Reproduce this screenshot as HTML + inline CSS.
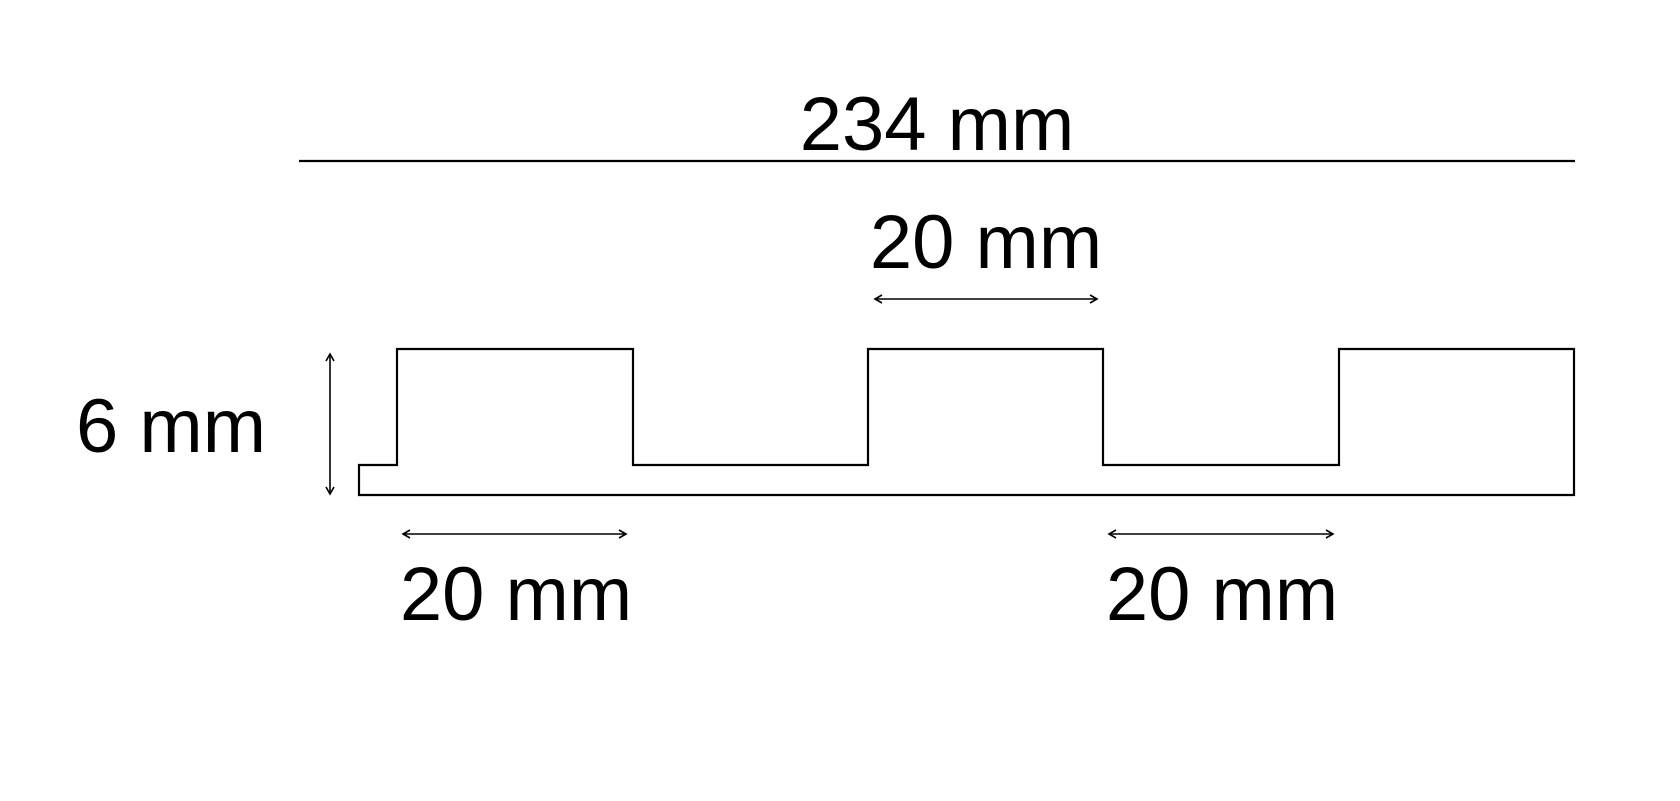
<!DOCTYPE html>
<html><head><style>html,body{margin:0;padding:0;background:#fff;}svg{display:block}</style></head>
<body>
<svg width="1680" height="801" viewBox="0 0 1680 801" xmlns="http://www.w3.org/2000/svg">
<defs>
<marker id="a" markerWidth="10" markerHeight="10" refX="8" refY="5" orient="auto-start-reverse" markerUnits="userSpaceOnUse">
<path d="M1,1 L8,5 L1,9" fill="none" stroke="#000" stroke-width="1.6"/></marker>
</defs>
<g font-family="Liberation Sans, Arial, sans-serif" font-size="76" fill="#000">
<text x="937" y="150" text-anchor="middle">234 mm</text>
<text x="986" y="268" text-anchor="middle">20 mm</text>
<text x="171" y="452" text-anchor="middle">6 mm</text>
<text x="516" y="620" text-anchor="middle">20 mm</text>
<text x="1222" y="620" text-anchor="middle">20 mm</text>
</g>
<line x1="299" y1="161" x2="1575" y2="161" stroke="#000" stroke-width="2.2"/>
<path d="M359,495 L359,465 L397,465 L397,349 L633,349 L633,465 L868,465 L868,349 L1103,349 L1103,465 L1339,465 L1339,349 L1574,349 L1574,495 Z" fill="none" stroke="#000" stroke-width="2.2"/>
<g stroke="#000" stroke-width="1.6" marker-start="url(#a)" marker-end="url(#a)">
<line x1="330" y1="354" x2="330" y2="494"/>
<line x1="875" y1="299" x2="1097" y2="299"/>
<line x1="403" y1="534" x2="626" y2="534"/>
<line x1="1109" y1="534" x2="1333" y2="534"/>
</g>
</svg>
</body></html>
